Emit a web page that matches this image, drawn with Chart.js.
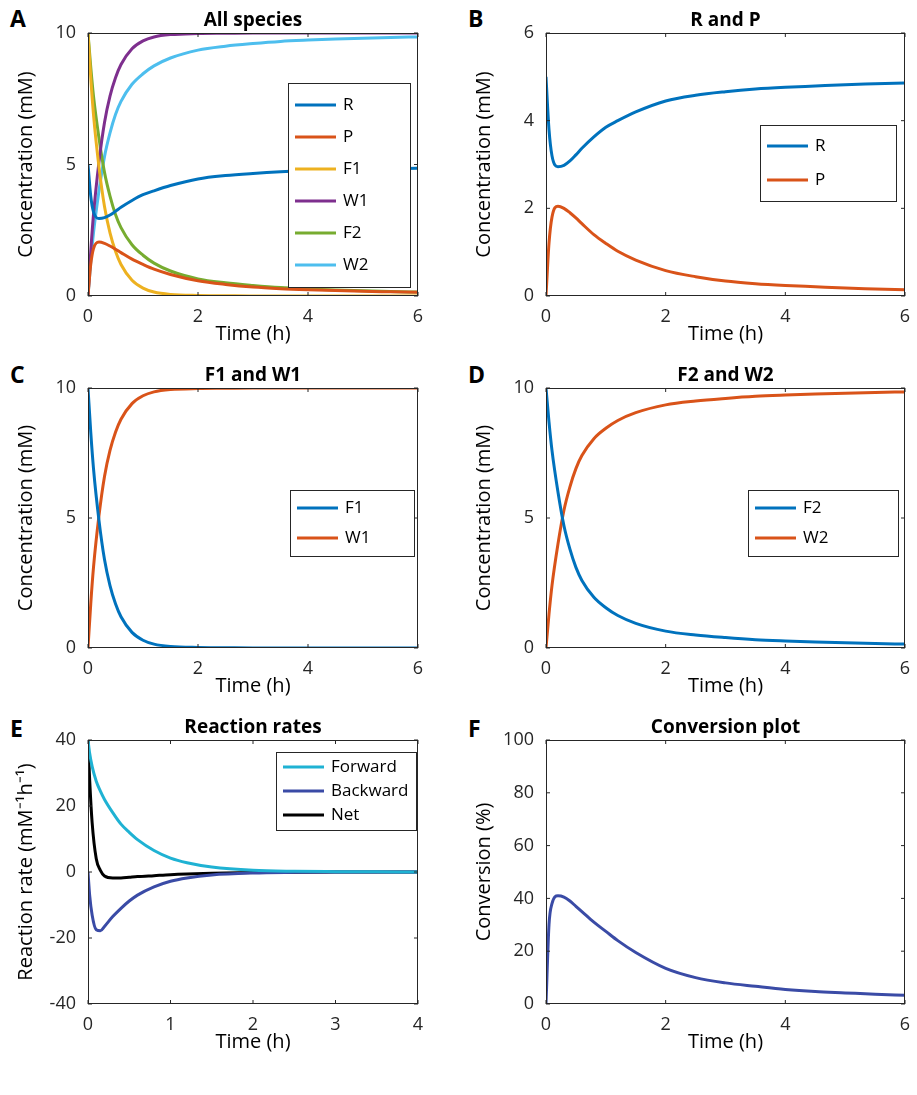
<!DOCTYPE html>
<html><head><meta charset="utf-8">
<script src="https://cdn.jsdelivr.net/npm/chart.js@4"></script>
<style>
body{margin:0;background:#fff;width:917px;height:1095px;position:relative;overflow:hidden;font-family:"Open Sans",sans-serif}
.c{position:absolute}
.lab{position:absolute;font:bold 23px "Open Sans",sans-serif;color:#000}
</style></head><body>
<div class="lab" style="left:10px;top:2px">A</div>
<div class="lab" style="left:468px;top:2px">B</div>
<div class="lab" style="left:10px;top:358px">C</div>
<div class="lab" style="left:468px;top:358px">D</div>
<div class="lab" style="left:10px;top:712px">E</div>
<div class="lab" style="left:468px;top:712px">F</div>
<script>
const t = [0,0.05,0.1,0.2,0.3,0.4,0.5,0.6,0.8,1,1.2,1.5,2,2.5,3,3.5,4,4.5,5,5.5,6];
const R  = [5,3.8,3.2,2.95,2.98,3.08,3.22,3.37,3.63,3.85,4.0,4.2,4.45,4.58,4.66,4.72,4.76,4.79,4.82,4.84,4.86];
const P  = [0,1.2,1.8,2.05,2.0,1.9,1.78,1.65,1.4,1.2,1.02,0.82,0.58,0.44,0.34,0.28,0.24,0.21,0.18,0.16,0.14];
const F1 = [10,8.3,6.9,4.9,3.4,2.4,1.7,1.2,0.6,0.3,0.15,0.06,0.02,0.01,0,0,0,0,0,0,0];
const W1 = [0,1.7,3.1,5.1,6.6,7.6,8.3,8.8,9.4,9.7,9.85,9.94,9.98,9.99,10,10,10,10,10,10,10];
const F2 = [10,8.7,7.6,6.0,4.7,3.8,3.1,2.6,1.95,1.55,1.25,0.95,0.65,0.5,0.4,0.32,0.27,0.23,0.2,0.17,0.15];
const W2 = [0,1.3,2.4,4.0,5.3,6.2,6.9,7.4,8.05,8.45,8.75,9.05,9.35,9.5,9.6,9.68,9.73,9.77,9.8,9.83,9.85];
const tE = [0,0.02,0.05,0.1,0.15,0.2,0.3,0.4,0.5,0.6,0.8,1,1.2,1.5,2,2.5,3,3.5,4];
const Fwd = [40,36,32,27.5,24.5,22,18,14.5,12,9.8,6.5,4.2,2.8,1.5,0.5,0.2,0.1,0.05,0];
const Bwd = [0,-7,-13,-17.5,-17.8,-16.5,-13.5,-11,-8.8,-7,-4.5,-2.8,-1.8,-0.9,-0.3,-0.1,0,0,0];
const Net = [40,28,15,4,0.5,-1.2,-1.8,-1.8,-1.6,-1.4,-1.1,-0.8,-0.6,-0.4,-0.15,-0.05,0,0,0];
const Conv = [0,30,38,41,40.5,39,37,35,31,27.5,24,19.5,13.5,10,8,6.7,5.5,4.7,4.2,3.7,3.3];

const C = {b:'#0072BD',o:'#D95319',y:'#EDB120',p:'#7E2F8E',g:'#77AC30',c:'#4DBEEE',cy:'#1FB2D3',db:'#3A4BA6',k:'#000'};
const FONT = '"Open Sans", sans-serif';
const YW = 74, XH = 50, PT = 35, PR = 12;

const framePlugin = {
  id:'frame',
  afterDraw(ch){
    const a = ch.chartArea, ctx = ch.ctx, o = ch.options.plugins.frame;
    ctx.save();
    ctx.strokeStyle = '#262626'; ctx.lineWidth = 1;
    ctx.strokeRect(a.left+0.5, a.top+0.5, a.right-a.left-1, a.bottom-a.top-1);
    const xs = ch.scales.x, ys = ch.scales.y;
    ctx.beginPath();
    xs.ticks.forEach(tk=>{const px=xs.getPixelForValue(tk.value);
      ctx.moveTo(px,a.bottom);ctx.lineTo(px,a.bottom-4);ctx.moveTo(px,a.top);ctx.lineTo(px,a.top+4);});
    ys.ticks.forEach(tk=>{const py=ys.getPixelForValue(tk.value);
      ctx.moveTo(a.left,py);ctx.lineTo(a.left+4,py);ctx.moveTo(a.right,py);ctx.lineTo(a.right-4,py);});
    ctx.stroke();
    ctx.fillStyle='#000'; ctx.font='bold 19px '+FONT; ctx.textAlign='center'; ctx.textBaseline='bottom';
    ctx.fillText(o.title,(a.left+a.right)/2,a.top-3);
    if(o.legend){
      const L=o.legend; const ds=ch.data.datasets;
      const x0=a.left+L.x, y0=a.top+L.y, h=L.rowH*ds.length+L.pad*2;
      ctx.fillStyle='#fff'; ctx.fillRect(x0,y0,L.w,h);
      ctx.strokeStyle='#262626'; ctx.lineWidth=1; ctx.strokeRect(x0+0.5,y0+0.5,L.w,h);
      ctx.font='17px '+FONT; ctx.textAlign='left'; ctx.textBaseline='middle';
      ds.forEach((d,i)=>{const yy=y0+L.pad+L.rowH*(i+0.5);
        ctx.strokeStyle=d.borderColor; ctx.lineWidth=3; ctx.beginPath();
        ctx.moveTo(x0+7,yy);ctx.lineTo(x0+48,yy);ctx.stroke();
        ctx.fillStyle='#000';ctx.fillText(d.label,x0+55,yy);});
    }
    ctx.restore();
  }
};

function mk(left,top,w,h,xs,series,opt){
  const cv=document.createElement('canvas');
  cv.className='c';
  const W=w+YW+PR, H=h+PT+XH;
  cv.style.left=(left-YW)+'px'; cv.style.top=(top-PT)+'px';
  cv.style.width=W+'px'; cv.style.height=H+'px';
  document.body.appendChild(cv);
  const tickFont={family:FONT,size:18};
  new Chart(cv,{type:'line',
    data:{datasets:series.map(s=>({label:s[0],borderColor:s[2],borderWidth:3,pointRadius:0,cubicInterpolationMode:'monotone',
      data:xs.map((x,i)=>({x:x,y:s[1][i]}))}))},
    options:{responsive:false,animation:false,maintainAspectRatio:false,
      layout:{padding:{top:PT,right:PR,left:0,bottom:0}},
      plugins:{legend:{display:false},tooltip:{enabled:false},frame:{title:opt.title,legend:opt.legend}},
      scales:{
        x:{type:'linear',min:0,max:opt.xmax||6,ticks:{stepSize:opt.xstep||2,color:'#262626',font:tickFont,padding:2},
          grid:{display:false},border:{display:false},
          title:{display:true,text:'Time (h)',color:'#000',font:{family:FONT,size:20},padding:0},
          afterFit:s=>{s.height=XH;}},
        y:{min:opt.ymin,max:opt.ymax,ticks:{stepSize:opt.ystep,color:'#262626',font:tickFont,padding:4},
          grid:{display:false},border:{display:false},
          title:{display:true,text:opt.ytitle,color:'#000',font:{family:FONT,size:20},padding:0},
          afterFit:s=>{s.width=YW;}}
      }},
    plugins:[framePlugin]});
}
const PW=330, PH=263, L1=88, L2=546, PW2=359;
mk(L1,33,PW,PH,t,[['R',R,C.b],['P',P,C.o],['F1',F1,C.y],['W1',W1,C.p],['F2',F2,C.g],['W2',W2,C.c]],
  {title:'All species',ymin:0,ymax:10,ystep:5,ytitle:'Concentration (mM)',legend:{x:200,y:50,w:122,rowH:32,pad:6}});
mk(L2,33,PW2,PH,t,[['R',R,C.b],['P',P,C.o]],
  {title:'R and P',ymin:0,ymax:6,ystep:2,ytitle:'Concentration (mM)',legend:{x:214,y:92,w:136,rowH:34,pad:4}});
mk(L1,388,PW,260,t,[['F1',F1,C.b],['W1',W1,C.o]],
  {title:'F1 and W1',ymin:0,ymax:10,ystep:5,ytitle:'Concentration (mM)',legend:{x:202,y:102,w:124,rowH:30,pad:3}});
mk(L2,388,PW2,260,t,[['F2',F2,C.b],['W2',W2,C.o]],
  {title:'F2 and W2',ymin:0,ymax:10,ystep:5,ytitle:'Concentration (mM)',legend:{x:202,y:102,w:150,rowH:30,pad:3}});
mk(L1,740,PW,264,tE,[['Forward',Fwd,C.cy],['Backward',Bwd,C.db],['Net',Net,C.k]],
  {title:'Reaction rates',xmax:4,xstep:1,ymin:-40,ymax:40,ystep:20,ytitle:'Reaction rate (mM\u207B\u00B9h\u207B\u00B9)',legend:{x:188,y:12,w:140,rowH:24,pad:3}});
mk(L2,740,PW2,264,t,[['Conversion',Conv,C.db]],
  {title:'Conversion plot',ymin:0,ymax:100,ystep:20,ytitle:'Conversion (%)'});
</script></body></html>
